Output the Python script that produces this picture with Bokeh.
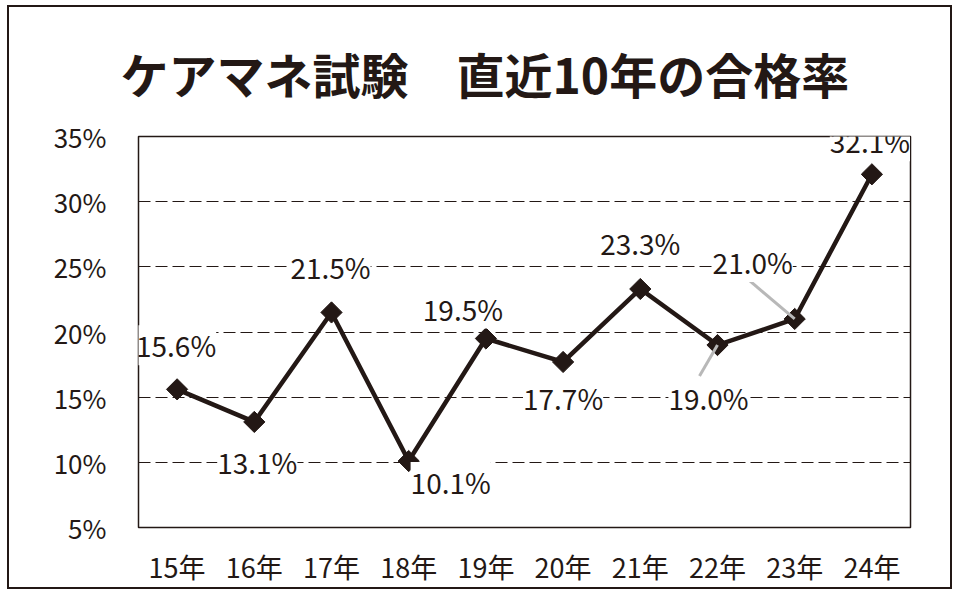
import math
from bokeh.plotting import figure
from bokeh.models import (ColumnDataSource, FactorRange, Range1d, LabelSet, Title,
                          FixedTicker, PrintfTickFormatter)
from bokeh.core.properties import value
from bokeh.embed import file_html
from bokeh.resources import INLINE

# ---- data ----
years = ["15年", "16年", "17年", "18年", "19年", "20年", "21年", "22年", "23年", "24年"]
rates = [15.6, 13.1, 21.5, 10.1, 19.5, 17.7, 23.3, 19.0, 21.0, 32.1]
rate_labels = ["15.6%", "13.1%", "21.5%", "10.1%", "19.5%", "17.7%", "23.3%", "19.0%", "21.0%", "32.1%"]
y_ticks = [5, 10, 15, 20, 25, 30, 35]
title_text = "ケアマネ試験　直近10年の合格率"

# ---- styling (label placement offsets in screen px) ----
lab_dx = [-1, 3, -1, 42, -23, 0, 0, -9, -42, -2]
lab_dy = [44, -40, 45, -21, 30, -36, 46, -53, 57, 33]
# leader lines (for 22年 and 23年): end offsets in screen px from the point
leader_idx = [7, 8]
leader_end_px = [(-18, -31), (-46, 39)]

INK = "#231815"
FONT = "Noto Sans CJK JP"

W, H = 945, 584
BL, BR, BT, BB = 129, 44, 129, 64
frame_w = W - BL - BR
frame_h = H - BT - BB

p = figure(width=W, height=H, x_range=FactorRange(*years), y_range=Range1d(5, 35),
           output_backend="svg", toolbar_location=None,
           min_border_left=BL, min_border_right=BR, min_border_top=BT, min_border_bottom=BB)
p.styles = {"border": "2px solid #231815", "margin-left": "7px", "margin-top": "5px"}

p.title = Title(text=title_text, align="left", offset=-18, standoff=57,
                text_font=FONT, text_font_size="48px", text_font_style="bold",
                text_color=INK)

p.outline_line_color = INK
p.outline_line_width = 1.5
p.background_fill_color = "white"
p.border_fill_color = "white"

p.xgrid.grid_line_color = None
p.ygrid.grid_line_color = INK
p.ygrid.grid_line_width = 1
p.ygrid.grid_line_dash = "12 5"
p.ygrid.ticker = FixedTicker(ticks=y_ticks)

for ax in (p.xaxis[0], p.yaxis[0]):
    ax.axis_line_color = None
    ax.major_tick_line_color = None
    ax.minor_tick_line_color = None
    ax.major_label_text_font = FONT
    ax.major_label_text_color = INK
p.yaxis[0].major_label_text_font_size = "26px"
p.xaxis[0].major_label_text_font_size = "27px"
p.yaxis[0].ticker = FixedTicker(ticks=y_ticks)
p.yaxis[0].formatter = PrintfTickFormatter(format="%d%%")
p.yaxis[0].major_label_standoff = 26
p.xaxis[0].major_label_standoff = 13

src = ColumnDataSource(dict(x=years, y=rates, lab=rate_labels, dx=lab_dx, dy=lab_dy))
p.line("x", "y", source=src, line_color=INK, line_width=4.5, line_join="miter")
p.scatter("x", "y", source=src, marker="square", angle=math.pi / 4, size=15,
          fill_color=INK, line_color=INK)

# leader lines
px_per_cat = frame_w / len(years)
px_per_pct = frame_h / 30.0
lx0, ly0, lx1, ly1 = [], [], [], []
for i, (ex, ey) in zip(leader_idx, leader_end_px):
    lx0.append(years[i]); ly0.append(rates[i])
    lx1.append((years[i], ex / px_per_cat)); ly1.append(rates[i] + ey / px_per_pct)
p.segment(x0=lx0, y0=ly0, x1=lx1, y1=ly1, line_color="#b8b8b8", line_width=3)

labels = LabelSet(x="x", y="y", text="lab", source=src, x_offset="dx", y_offset="dy",
                  text_align="center", text_baseline="middle", text_font=value(FONT),
                  text_font_size="28px", text_color=INK,
                  background_fill_color="white")
p.add_layout(labels)

open("out.html", "w").write(file_html(p, INLINE))
